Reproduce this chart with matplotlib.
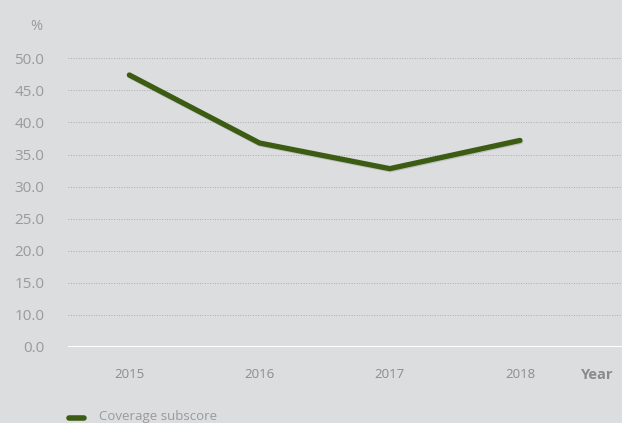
import matplotlib
matplotlib.use("Agg")
import matplotlib.pyplot as plt
import matplotlib.patheffects as pe

years = [2015, 2016, 2017, 2018]
coverage = [47.4, 36.8, 32.8, 37.2]
ytick_pos = [5, 10, 15, 20, 25, 30, 35, 40, 45, 50]
ytick_labels = ["0.0", "10.0", "15.0", "20.0", "25.0", "30.0", "35.0", "40.0", "45.0", "50.0"]
series_name = "Coverage subscore"

bg = "#dcdddf"
green = "#3b5c12"
gray = "#9a9a9a"

plt.rcParams['font.family'] = ['Open Sans', 'DejaVu Sans']

fig = plt.figure(figsize=(6.22, 4.23), dpi=100, facecolor=bg)
W, H = 622, 423
ax = fig.add_axes([68 / W, 1 - 347 / H, (622 - 68) / W, (347 - 58.3) / H])
ax.set_facecolor(bg)

ax.set_xlim(2014.529, 2018.784)
ax.set_ylim(5, 50)

for y in ytick_pos[1:]:
    ax.axhline(y, color="#acacac", lw=0.7, ls=(0, (1, 1.6)), zorder=1)
ax.axhline(5, color="white", lw=2.2, zorder=2)

ax.plot(years, coverage, color=green, lw=3.8, solid_capstyle="round",
        solid_joinstyle="round", zorder=3, clip_on=False,
        path_effects=[pe.SimpleLineShadow(offset=(0.5, -0.8), shadow_color="#888888", alpha=0.35),
                      pe.Normal()])

ax.set_yticks(ytick_pos)
ax.set_yticklabels(ytick_labels)
ax.set_xticks(years)
ax.set_xticklabels([str(y) for y in years])
ax.tick_params(axis="y", length=0, pad=17, labelsize=11, labelcolor=gray)
ax.tick_params(axis="x", length=0, pad=15, labelsize=9.5, labelcolor="#8c8c8c")
for s in ax.spines.values():
    s.set_visible(False)

fig.text(36 / W, 1 - 26 / H, "%", ha="center", va="center", fontsize=10.5, color=gray)
fig.text(597 / W, 1 - 375 / H, "Year", ha="center", va="center", fontsize=10.5,
         color="#8a8a8a", fontweight="bold")

# legend
fig.lines.append(matplotlib.lines.Line2D([69 / W, 84 / W], [1 - 417.5 / H, 1 - 417.5 / H],
                                         transform=fig.transFigure, color=green, lw=4,
                                         solid_capstyle="round"))
fig.text(99 / W, 1 - 416 / H, series_name, ha="left", va="center", fontsize=9.5, color=gray)

fig.savefig("out.png", dpi=100, facecolor=bg)
